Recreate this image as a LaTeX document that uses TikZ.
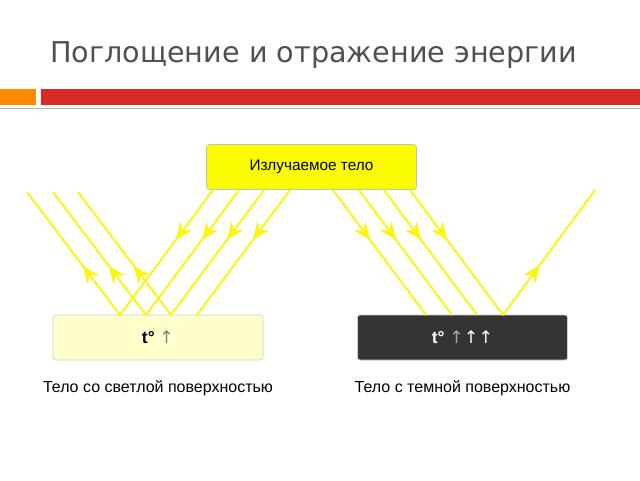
\documentclass[tikz,border=0pt]{standalone}
\usepackage{fontspec}
\setmainfont{Liberation Sans}
\newfontfamily\titlefont{DejaVu Sans}
\newfontfamily\symfont{DejaVu Sans}
\usetikzlibrary{decorations.markings,arrows.meta}
\definecolor{ray}{RGB}{250,245,20}
\definecolor{boxy}{RGB}{252,252,0}
\definecolor{lightb}{RGB}{255,255,204}
\definecolor{darkb}{RGB}{52,52,52}
\definecolor{tgray}{RGB}{80,80,80}
\definecolor{barred}{RGB}{218,42,40}
\begin{document}
\begin{tikzpicture}[x=0.75pt,y=-0.75pt,
  raybase/.style={draw=ray,line width=1.5pt},
  ray/.style={raybase,postaction={decorate},decoration={markings,mark=at position #1 with {\arrow[ray,line width=1pt]{Stealth[length=13pt,width=11pt,inset=4pt]}}}},
  body/.style={rounded corners=2pt,minimum width=210*0.75pt,minimum height=45*0.75pt,inner sep=0pt},
  captext/.style={font=\fontsize{12pt}{14pt}\selectfont}]
\useasboundingbox (0,0) rectangle (640,480);
\node[anchor=base west,text=tgray,font=\titlefont\fontsize{21.5pt}{24pt}\selectfont,inner sep=0pt] (title) at (50,62) {Поглощение и отражение энергии};
\fill[orange!90!yellow] (0,89) rectangle (36,105);
\fill[barred] (41,89) rectangle (640,105);
\draw[gray!60,line width=1.2pt] (0,108.5) -- (640,108.5);
\node[body,fill=boxy,draw=gray!50] (src) at (311.5,167) {\fontsize{11.5pt}{13pt}\selectfont Излучаемое тело};
\node[body,fill=lightb,draw=gray!40] (light) at (158,337.5) {\fontsize{13pt}{15pt}\selectfont\bfseries t° \textcolor{gray}{\normalfont\symfont ↑}};
\node[body,fill=darkb,draw=gray!40] (dark) at (462.5,337.5) {\fontsize{13pt}{15pt}\selectfont\bfseries\color{white} t° \textcolor{gray!70}{\normalfont\symfont ↑}{\normalfont\symfont ↑↑}};
\node[captext] (lc) at (158,388) {Тело со светлой поверхностью};
\node[captext] (dc) at (462.5,388) {Тело с темной поверхностью};
% left incoming
\foreach \i/\a in {0/213,1/239,2/264,3/290}{
  \coordinate (ls\i) at (\a,190);
  \coordinate (le\i) at (\a-93,315);
  \draw[ray=0.4] (ls\i) -- (le\i);
}
\coordinate (lr0) at (27,192);
\coordinate (lr1) at (53,192);
\coordinate (lr2) at (78,192);
\draw[ray=0.4] (le0) -- (lr0);
\draw[ray=0.4] (le1) -- (lr1);
\draw[ray=0.4] (le2) -- (lr2);
% right incoming
\foreach \i/\a in {0/333,1/359,2/384,3/410}{
  \coordinate (rs\i) at (\a,190);
  \coordinate (re\i) at (\a+93,315);
  \draw[ray=0.4] (rs\i) -- (re\i);
}
\coordinate (rout) at (595,190);
\draw[ray=0.4] (re3) -- (rout);
\end{tikzpicture}
\end{document}
